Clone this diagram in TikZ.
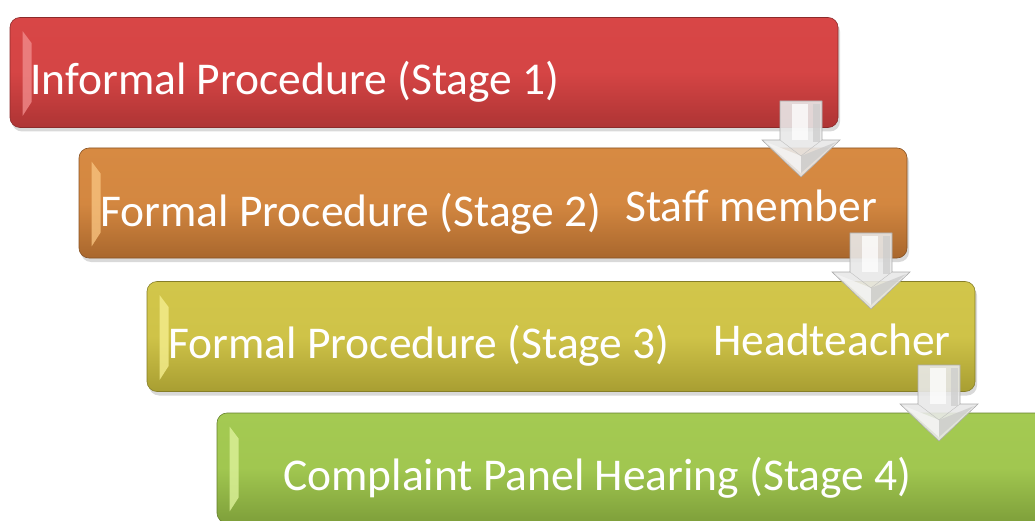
\documentclass[tikz,border=0pt]{standalone}
\usepackage{fontspec}
\setmainfont{Carlito}
\usetikzlibrary{shadows}
\definecolor{redT}{HTML}{D84646}
\definecolor{redB}{HTML}{AE3434}
\definecolor{redL}{HTML}{F08A8A}
\definecolor{orT}{HTML}{D78A42}
\definecolor{orB}{HTML}{A9672D}
\definecolor{orL}{HTML}{F7C27E}
\definecolor{yeT}{HTML}{D2C64A}
\definecolor{yeB}{HTML}{A89E32}
\definecolor{yeL}{HTML}{F5EE8E}
\definecolor{grT}{HTML}{A4CA52}
\definecolor{grB}{HTML}{7E9F3A}
\definecolor{grL}{HTML}{DDF29A}
\tikzset{
  stagebox/.style={rectangle, rounded corners=10pt, minimum width=828pt, minimum height=110pt,
    inner sep=0pt, draw=#1B!80!black, line width=0.6pt, top color=#1T, bottom color=#1B,
    middle color=#1T!92!#1B,
    drop shadow={opacity=0.3, shadow xshift=2pt, shadow yshift=-4pt}},
  stagetext/.style={anchor=base west, text=white, font=\fontsize{45.5}{52}\selectfont, inner sep=0pt},
  arrowface/.style={fill=gray!18, draw=gray!65, line width=0.6pt, fill opacity=0.9},
  pics/downarrow/.style={code={
    \path[arrowface] (-21,0) -- (21,0) -- (21,39) -- (39,39) -- (0,76) -- (-39,39) -- (-21,39) -- cycle;
    \fill[white, opacity=0.75] (-9,3) -- (7,3) -- (7,39) -- (-9,39) -- cycle;
    \fill[gray!40, opacity=0.7] (12,3) -- (19,3) -- (19,41) -- (12,41) -- cycle;
    \fill[gray!8, opacity=0.8] (-35,41) -- (0,55) -- (0,72) -- cycle;
    \fill[gray!42, opacity=0.7] (35,41) -- (0,55) -- (0,72) -- cycle;
    \draw[gray!50, line width=0.4pt] (-21,39) -- (0,55) -- (21,39);
  }}
}
\begin{document}
\begin{tikzpicture}[x=1pt, y=-1pt]
\useasboundingbox (0,0) rectangle (1035,521);
% boxes
\node[stagebox=red] (b1) at (424,72.5) {};
\node[stagebox=or] (b2) at (493,203) {};
\node[stagebox=ye] (b3) at (561,336.5) {};
\node[stagebox=gr] (b4) at (631,468) {};
% left bevel highlights
\foreach \b/\c in {b1/redL, b2/orL, b3/yeL, b4/grL}{
  \fill[\c, opacity=0.8] ([xshift=13pt, yshift=-14pt]\b.north west) -- ([xshift=22pt, yshift=-26pt]\b.north west)
    -- ([xshift=22pt, yshift=26pt]\b.south west) -- ([xshift=13pt, yshift=12pt]\b.south west) -- cycle;
}
% texts
\node[stagetext] (t1) at (30,95) {Informal Procedure (Stage 1)};
\node[stagetext] (t2) at (100,226) {Formal Procedure (Stage 2)};
\node[stagetext] (s2) at (625,222) {Staff member};
\node[stagetext] (t3) at (168,358) {Formal Procedure (Stage 3)};
\node[stagetext] (h3) at (713,355) {Headteacher};
\node[stagetext] (t4) at (283,490) {Complaint Panel Hearing (Stage 4)};
% arrows
\coordinate (a1) at (801,101);
\coordinate (a2) at (871,233);
\coordinate (a3) at (939,365);
\pic at (a1) {downarrow};
\pic at (a2) {downarrow};
\pic at (a3) {downarrow};
\end{tikzpicture}
\end{document}
